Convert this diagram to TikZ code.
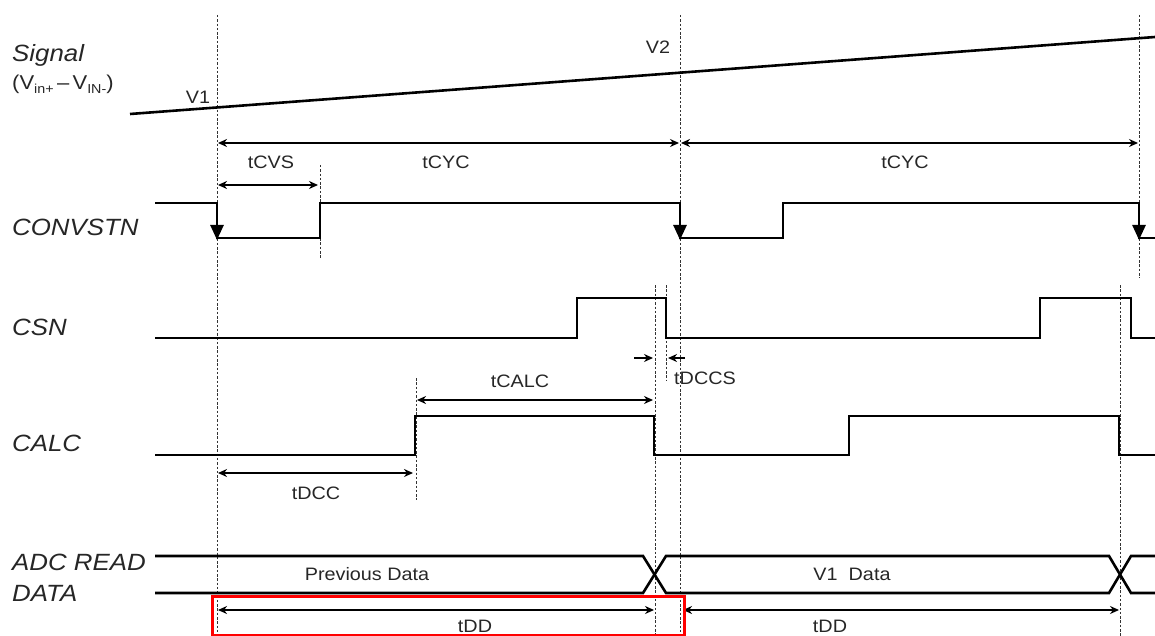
\documentclass[tikz,border=0pt]{standalone}
\usepackage{fontspec}
\setmainfont[FakeStretch=1.1]{Liberation Sans}
\usetikzlibrary{arrows.meta}
\begin{document}
\begin{tikzpicture}[x=1pt,y=-1pt,
  sig/.style={line width=2.6pt, line join=miter},
  guide/.style={line width=1pt, black!80, dash pattern=on 2.5pt off 1.8pt},
  dimarr/.style={line width=2.2pt, {Stealth[length=9pt,width=8pt]}-{Stealth[length=9pt,width=8pt]}},
  onearr/.style={line width=2.2pt, -{Stealth[length=9pt,width=8pt]}},
  fallarr/.style={line width=2.6pt, -{Triangle[length=15pt,width=13pt]}},
  lbl/.style={font=\fontsize{18}{20}\selectfont, text=black!85, inner sep=0pt},
  sname/.style={font=\fontsize{23.5}{26}\selectfont\itshape, text=black!85, anchor=west, inner sep=0pt},
  hl/.style={draw=red, line width=3pt}]
\useasboundingbox (0,0) rectangle (1155,636);
% key coordinates
\coordinate (a1) at (217,15);   \coordinate (a2) at (217,636);
\coordinate (b1) at (680,15);   \coordinate (b2) at (680,636);
\coordinate (c1) at (1139,15);  \coordinate (c2) at (1139,278);
\coordinate (d1) at (320,165);  \coordinate (d2) at (320,258);
\coordinate (e1) at (416,378);  \coordinate (e2) at (416,500);
\coordinate (f1) at (655,285);  \coordinate (f2) at (655,636);
\coordinate (g1) at (666,285);  \coordinate (g2) at (666,380);
\coordinate (h1) at (1120,285); \coordinate (h2) at (1120,636);
% guide lines
\foreach \p/\q in {a1/a2,b1/b2,c1/c2,d1/d2,e1/e2,f1/f2,g1/g2,h1/h2}
  \draw[guide] (\p) -- (\q);
% signal
\coordinate (s0) at (130,114);
\coordinate (s1) at (1155,37);
\draw[sig] (s0) -- (s1);
\node[sname] (signal) at (12,55) {Signal};
\node[anchor=west, inner sep=0pt, text=black!85, font=\fontsize{20}{22}\selectfont] (vdiff) at (12,84)
  {(V\raisebox{-0.4ex}{\fontsize{13}{14}\selectfont in+}\,–\,V\raisebox{-0.4ex}{\fontsize{13}{14}\selectfont IN-})};
\node[lbl] (v1) at (198,97) {V1};
\node[lbl] (v2) at (658,47) {V2};
% tCYC, tCVS
\draw[dimarr] (218,143) coordinate (cy1) -- (679,143) coordinate (cy2);
\draw[dimarr] (681,143) coordinate (cy3) -- (1138,143) coordinate (cy4);
\node[lbl] (tcyc1) at (446,162) {tCYC};
\node[lbl] (tcyc2) at (905,162) {tCYC};
\draw[dimarr] (218,185) coordinate (cv1) -- (318,185) coordinate (cv2);
\node[lbl] (tcvs) at (271,162) {tCVS};
% CONVSTN
\node[sname] (convstn) at (12,227) {CONVSTN};
\draw[sig] (155,203) -- (217,203) -- (217,238) -- (320,238) -- (320,203) -- (680,203) -- (680,238)
  -- (783,238) -- (783,203) -- (1139,203) -- (1139,238) -- (1155,238);
\draw[fallarr] (217,203) -- (217,240);
\draw[fallarr] (680,203) -- (680,240);
\draw[fallarr] (1139,203) -- (1139,240);
% CSN
\node[sname] (csn) at (12,327) {CSN};
\draw[sig] (155,338) -- (577,338) -- (577,298) -- (666,298) -- (666,338) -- (1040,338) -- (1040,298)
  -- (1131,298) -- (1131,338) -- (1155,338);
% tDCCS
\draw[onearr] (634,358) coordinate (dc1) -- (653,358) coordinate (dc2);
\draw[onearr] (685,358) coordinate (dc3) -- (668,358) coordinate (dc4);
\node[lbl, anchor=west] (tdccs) at (674,378) {tDCCS};
% tCALC
\draw[dimarr] (417,400) coordinate (tc1) -- (653,400) coordinate (tc2);
\node[lbl] (tcalc) at (520,381) {tCALC};
% CALC
\node[sname] (calc) at (12,443) {CALC};
\draw[sig] (155,455) -- (415,455) -- (415,416) -- (654,416) -- (654,455) -- (849,455) -- (849,416)
  -- (1119,416) -- (1119,455) -- (1155,455);
% tDCC
\draw[dimarr] (218,473) coordinate (dd1) -- (413,473) coordinate (dd2);
\node[lbl] (tdcc) at (316,493) {tDCC};
% ADC READ DATA
\node[sname] (adc) at (12,562) {ADC READ};
\node[sname] (data) at (12,593) {DATA};
\draw[sig] (155,556) -- (643,556) -- (666,593) -- (1109,593) -- (1131,556) -- (1155,556);
\draw[sig] (155,593) -- (643,593) -- (666,556) -- (1109,556) -- (1131,593) -- (1155,593);
\node[lbl] (prev) at (367,574) {Previous Data};
\node[lbl] (v1d) at (852,574) {V1\ \ Data};
% tDD
\draw[dimarr] (218,610) coordinate (td1) -- (654,610) coordinate (td2);
\draw[dimarr] (683,610) coordinate (td3) -- (1119,610) coordinate (td4);
\node[lbl] (tdd1) at (475,626) {tDD};
\node[lbl] (tdd2) at (830,626) {tDD};
% highlight box
\draw[hl] (212,596) rectangle (684,635);
\end{tikzpicture}
\end{document}
